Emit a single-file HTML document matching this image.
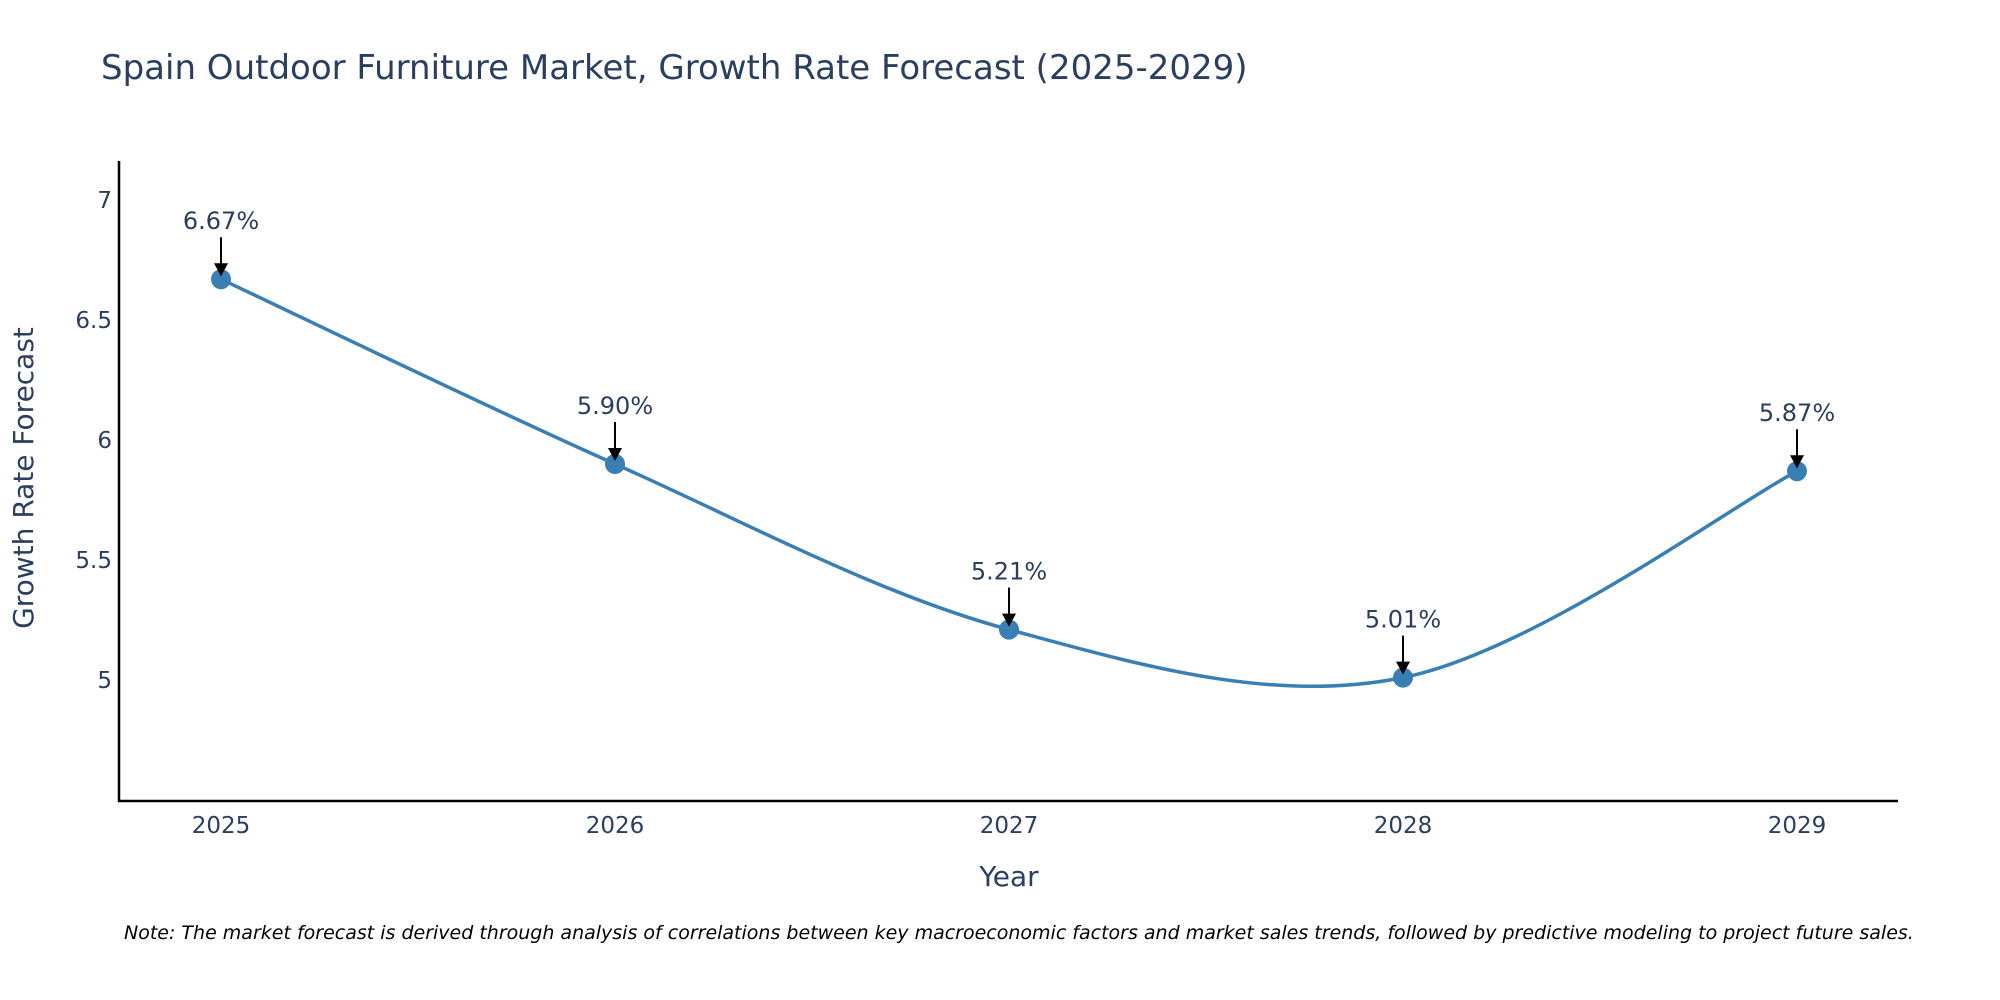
<!DOCTYPE html>
<html><head><meta charset="utf-8"><style>
body{margin:0;background:#fff;}
svg{display:block;font-family:"DejaVu Sans","Liberation Sans",sans-serif;}
</style></head><body>
<svg id="chart" width="2000" height="1000" viewBox="0 0 2000 1000">
<text x="101" y="79" font-size="34" fill="#2a3f5f">Spain Outdoor Furniture Market, Growth Rate Forecast (2025-2029)</text>
<g id="yticks"></g>
<g id="xticks"></g>
<line x1="119" y1="161" x2="119" y2="802" stroke="#000" stroke-width="2.5"/>
<line x1="118" y1="801" x2="1898" y2="801" stroke="#000" stroke-width="2.5"/>
<path id="line" fill="none" stroke="#3a7fb3" stroke-width="3.5"/>
<g id="points"></g>
<g id="annots"></g>
<text x="33" y="478" font-size="28" fill="#2a3f5f" text-anchor="middle" transform="rotate(-90 33 478)">Growth Rate Forecast</text>
<text x="1009" y="886" font-size="28" fill="#2a3f5f" text-anchor="middle">Year</text>
<text x="124" y="939" font-size="19" font-style="italic" fill="#000">Note: The market forecast is derived through analysis of correlations between key macroeconomic factors and market sales trends, followed by predictive modeling to project future sales.</text>
</svg>
<script>
const years=[2025,2026,2027,2028,2029];
const values=[6.67,5.90,5.21,5.01,5.87];
const labels=["6.67%","5.90%","5.21%","5.01%","5.87%"];
const yTicks=[5,5.5,6,6.5,7];
const yTickLabels=["5","5.5","6","6.5","7"];
const NS="http://www.w3.org/2000/svg";
const xScale=v=>221+(v-2025)*394;
const yScale=v=>680-(v-5)*240;
function mk(tag,attrs,parent){const e=document.createElementNS(NS,tag);for(const k in attrs)e.setAttribute(k,attrs[k]);parent.appendChild(e);return e;}
const yt=document.getElementById('yticks');
yTicks.forEach((t,i)=>{const e=mk('text',{x:112,y:yScale(t)+8,'font-size':23,fill:'#2a3f5f','text-anchor':'end'},yt);


e.textContent=yTickLabels[i];});
const xt=document.getElementById('xticks');
years.forEach(y=>{const e=mk('text',{x:xScale(y),y:833,'font-size':23,fill:'#2a3f5f','text-anchor':'middle'},xt);


e.textContent=y;});
const P=years.map((y,i)=>[xScale(y),yScale(values[i])]);
let d=`M${P[0][0]},${P[0][1]}`;
for(let i=0;i<P.length-1;i++){const p0=P[Math.max(i-1,0)],p1=P[i],p2=P[i+1],p3=P[Math.min(i+2,P.length-1)];
const c1=[p1[0]+(p2[0]-p0[0])/6,p1[1]+(p2[1]-p0[1])/6],c2=[p2[0]-(p3[0]-p1[0])/6,p2[1]-(p3[1]-p1[1])/6];
d+=` C${c1[0]},${c1[1]} ${c2[0]},${c2[1]} ${p2[0]},${p2[1]}`;}
document.getElementById('line').setAttribute('d',d);
const pts=document.getElementById('points'),an=document.getElementById('annots');
P.forEach((p,i)=>{const c=mk('circle',{cx:p[0],cy:p[1],r:10,fill:'#3a7fb3'},pts);


const l=mk('line',{x1:p[0],y1:p[1]-42,x2:p[0],y2:p[1]-14,stroke:'#000','stroke-width':2},an);


const h=mk('polygon',{points:`${p[0]-7},${p[1]-16} ${p[0]+7},${p[1]-16} ${p[0]},${p[1]-3}`,fill:'#000'},an);


const t=mk('text',{x:p[0],y:p[1]-50,'font-size':24,fill:'#2a3f5f','text-anchor':'middle'},an);


t.textContent=labels[i];});
</script>
</body></html>
